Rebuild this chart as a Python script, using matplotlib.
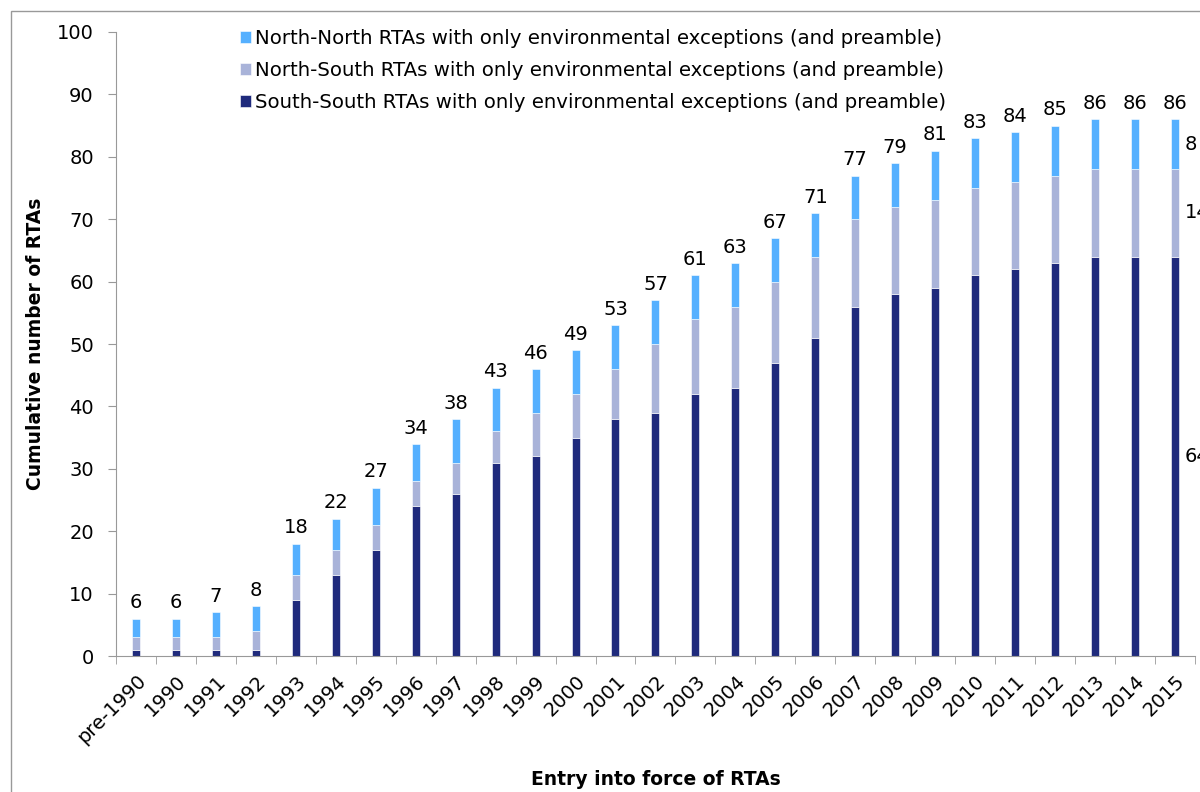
import numpy as np
import matplotlib.pyplot as plt
from matplotlib.patches import Rectangle

years = ["pre-1990", "1990", "1991", "1992", "1993", "1994", "1995", "1996",
         "1997", "1998", "1999", "2000", "2001", "2002", "2003", "2004",
         "2005", "2006", "2007", "2008", "2009", "2010", "2011", "2012",
         "2013", "2014", "2015"]
south_south = [1, 1, 1, 1, 9, 13, 17, 24, 26, 31, 32, 35, 38, 39, 42, 43,
               47, 51, 56, 58, 59, 61, 62, 63, 64, 64, 64]
north_south = [2, 2, 2, 3, 4, 4, 4, 4, 5, 5, 7, 7, 8, 11, 12, 13,
               13, 13, 14, 14, 14, 14, 14, 14, 14, 14, 14]
north_north = [3, 3, 4, 4, 5, 5, 6, 6, 7, 7, 7, 7, 7, 7, 7, 7,
               7, 7, 7, 7, 8, 8, 8, 8, 8, 8, 8]

c_ss = "#1f2a7c"
c_ns = "#a9b3d9"
c_nn = "#55b0ff"

plt.rcParams['font.family'] = ['DejaVu Sans']
fig = plt.figure(figsize=(12, 7.92), dpi=100)
ax = fig.add_axes([0.0967, 0.1717, 0.899, 0.7879])

x = np.arange(len(years))
ss = np.array(south_south)
ns = np.array(north_south)
nn = np.array(north_north)
w = 0.2
b1 = ax.bar(x, ss, w, color=c_ss, edgecolor="white", linewidth=0.4,
            label="South-South RTAs with only environmental exceptions (and preamble)")
b2 = ax.bar(x, ns, w, bottom=ss, color=c_ns, edgecolor="white", linewidth=0.4,
            label="North-South RTAs with only environmental exceptions (and preamble)")
b3 = ax.bar(x, nn, w, bottom=ss + ns, color=c_nn, edgecolor="white", linewidth=0.4,
            label="North-North RTAs with only environmental exceptions (and preamble)")

tot = ss + ns + nn
for i in range(len(years)):
    ax.text(x[i], tot[i] + 1.0, str(tot[i]), ha="center", va="bottom", fontsize=14)

# segment labels on last bar (cut off at the edge like the original)
last = len(years) - 1
for val, mid in [(ss[last], ss[last] / 2),
                 (ns[last], ss[last] + ns[last] / 2),
                 (nn[last], ss[last] + ns[last] + nn[last] / 2)]:
    ax.text(x[last] + 0.25, mid, str(val), ha="left", va="center", fontsize=14,
            clip_on=False)

ax.set_xlim(-0.5, len(years) - 0.5)
ax.set_ylim(0, 100)
ax.set_yticks(range(0, 101, 10))
ax.set_xticks(x)
ax.set_xticklabels(years, rotation=45, ha="right", rotation_mode="anchor")
ax.set_xticks(np.arange(-0.5, len(years), 1), minor=True)
ax.tick_params(axis="x", which="major", length=0, labelsize=14, pad=11)
ax.tick_params(axis="x", which="minor", length=6, color="#999999")
ax.tick_params(axis="y", length=6, color="#999999", labelsize=14, pad=10)

for s in ["top", "right"]:
    ax.spines[s].set_visible(False)
for s in ["left", "bottom"]:
    ax.spines[s].set_color("#999999")

ax.set_ylabel("Cumulative number of RTAs", fontsize=13.5, fontweight="bold")
ax.set_xlabel("Entry into force of RTAs", fontsize=13.5, fontweight="bold")
ax.yaxis.set_label_coords(-0.0658, 0.5)
ax.xaxis.set_label_coords(0.5, -0.1827)

handles = [b3, b2, b1]
ax.legend(handles=handles, labels=[h.get_label() for h in handles],
          loc="upper left", bbox_to_anchor=(0.1076, 1.017), frameon=False,
          fontsize=14.2, handlelength=0.55, handleheight=0.55, handletextpad=0.2,
          labelspacing=0.65, borderaxespad=0)

fig.patches.append(Rectangle((11 / 1200, -0.1), 1.2, (792 - 11) / 792 + 0.1,
                             transform=fig.transFigure, fill=False,
                             edgecolor="#999999", linewidth=1))

fig.savefig("out.png", dpi=100)
